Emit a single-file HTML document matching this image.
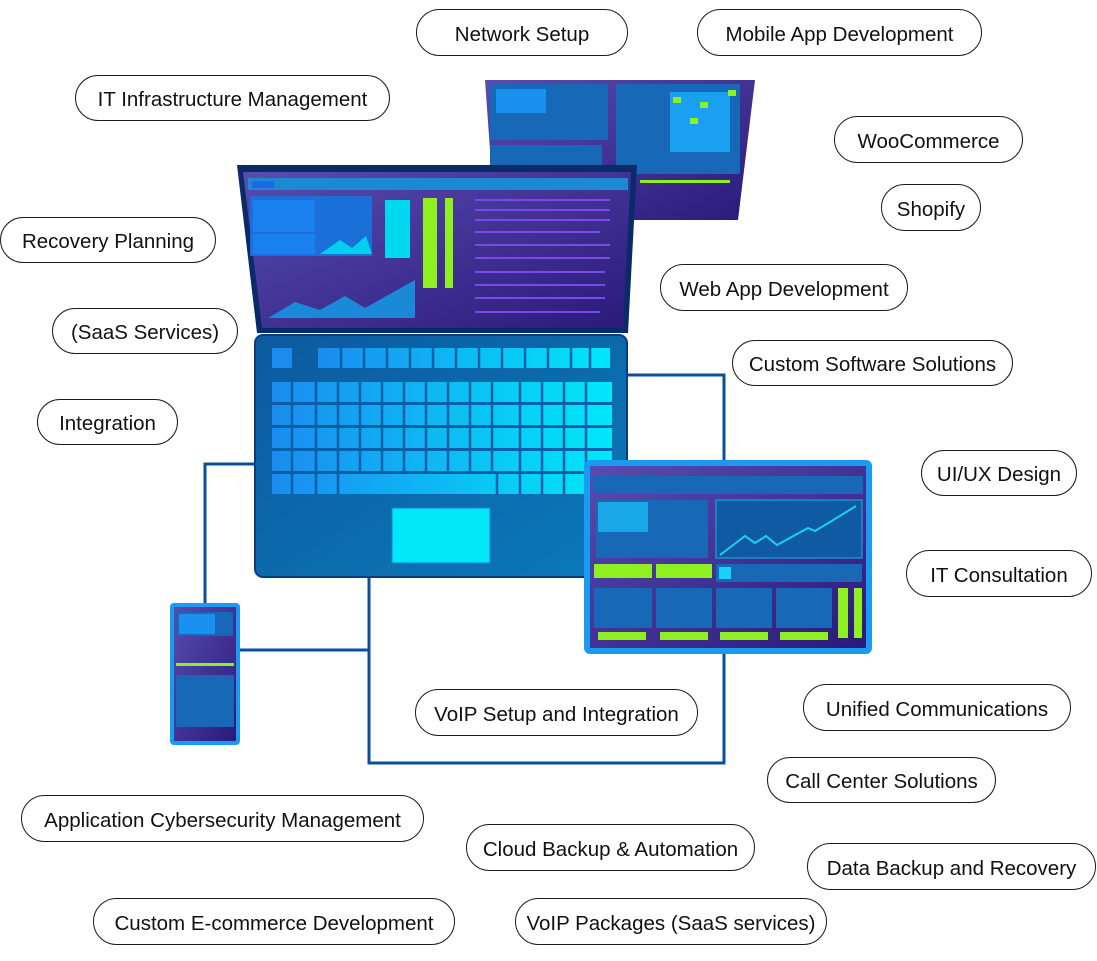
<!DOCTYPE html>
<html><head><meta charset="utf-8"><style>
body{margin:0;width:1097px;height:961px;background:#fff;position:relative;overflow:hidden;font-family:"Liberation Sans",sans-serif}
.p{position:absolute;border:1.3px solid #1a1a1a;border-radius:24px;box-sizing:border-box;display:flex;align-items:center;justify-content:center;font-size:20.5px;padding-top:4px;color:#111;white-space:nowrap;background:#fff}
svg{position:absolute;left:0;top:0}
</style></head><body>
<svg width="1097" height="961" viewBox="0 0 1097 961">
<defs>
<linearGradient id="scr" x1="0" y1="0" x2="1" y2="1"><stop offset="0" stop-color="#5a4bb0"/><stop offset="1" stop-color="#2a1a7a"/></linearGradient>
<linearGradient id="base" x1="0" y1="0" x2="1" y2="1"><stop offset="0" stop-color="#0d5aa0"/><stop offset="1" stop-color="#0a7ab8"/></linearGradient>
<linearGradient id="key" x1="0" y1="0" x2="1" y2="0"><stop offset="0" stop-color="#1a8cf0"/><stop offset="1" stop-color="#00e8f8"/></linearGradient>
</defs>
<g fill="none" stroke="#0b4f9a" stroke-width="3">
<polyline points="627,375 724,375 724,460"/>
<polyline points="724,654 724,763 369,763 369,577"/>
<polyline points="255,464 205,464 205,603"/>
<polyline points="240,650 369,650"/>
</g>
<polygon points="485,80 755,80 738,220 495,220" fill="url(#scr)"/>
<rect x="490" y="84" width="118" height="56" fill="#1868b8"/>
<rect x="496" y="89" width="50" height="24" fill="#1a90f0"/>
<rect x="616" y="84" width="124" height="90" fill="#1868b8"/>
<g fill="#1aa0f0"><rect x="670" y="92" width="60" height="60"/></g>
<g fill="#8ef020"><rect x="673" y="97" width="8" height="6"/><rect x="728" y="90" width="8" height="6"/><rect x="700" y="102" width="8" height="6"/><rect x="690" y="118" width="8" height="6"/><rect x="586" y="146" width="14" height="16"/><rect x="640" y="180" width="90" height="3"/></g>
<rect x="490" y="145" width="112" height="20" fill="#1868b8"/>
<path d="M237,165 L637,165 L628,333 L257,333 Z" fill="#0a2a6a"/>
<path d="M243,172 L631,172 L623,328 L262,328 Z" fill="url(#scr)"/>
<rect x="248" y="178" width="380" height="12" fill="#1c8ad0"/>
<rect x="252" y="181" width="22" height="7" fill="#1a6ae0"/>
<rect x="250" y="196" width="122" height="60" fill="#1a6fd8"/>
<rect x="253" y="200" width="62" height="32" fill="#1a80f0"/>
<rect x="253" y="234" width="62" height="20" fill="#1a80f0"/>
<polygon points="320,254 340,240 352,248 366,236 372,254" fill="#00d0f0"/>
<rect x="385" y="200" width="25" height="58" fill="#00d8f0"/>
<g fill="#8ef020"><rect x="423" y="198" width="14" height="90"/><rect x="445" y="198" width="8" height="90"/></g>
<polygon points="268,318 295,302 320,310 345,296 365,308 415,280 415,318" fill="#1a8ad8"/>
<g stroke="#7a4ae8" stroke-width="2"><line x1="475" y1="200" x2="610" y2="200"/><line x1="475" y1="210" x2="610" y2="210"/><line x1="475" y1="220" x2="610" y2="220"/><line x1="475" y1="232" x2="600" y2="232"/><line x1="475" y1="245" x2="610" y2="245"/><line x1="475" y1="258" x2="610" y2="258"/><line x1="475" y1="272" x2="605" y2="272"/><line x1="475" y1="285" x2="605" y2="285"/><line x1="475" y1="298" x2="605" y2="298"/><line x1="475" y1="312" x2="600" y2="312"/></g>
<rect x="255" y="335" width="372" height="242" rx="8" fill="url(#base)" stroke="#0a3a80" stroke-width="2"/>
<g fill="url(#key)"><rect x="272" y="348" width="20" height="20" fill="#1a8cf0"/><rect x="318" y="348" width="292" height="20"/>
<rect x="272" y="382" width="340" height="20"/><rect x="272" y="405" width="340" height="20"/><rect x="272" y="428" width="340" height="20"/><rect x="272" y="451" width="340" height="20"/><rect x="272" y="474" width="340" height="20"/></g>
<g stroke="#0a5fa8" stroke-width="2.5">
<line x1="341" y1="348" x2="341" y2="368"/><line x1="364" y1="348" x2="364" y2="368"/><line x1="387" y1="348" x2="387" y2="368"/><line x1="410" y1="348" x2="410" y2="368"/><line x1="433" y1="348" x2="433" y2="368"/><line x1="456" y1="348" x2="456" y2="368"/><line x1="479" y1="348" x2="479" y2="368"/><line x1="502" y1="348" x2="502" y2="368"/><line x1="525" y1="348" x2="525" y2="368"/><line x1="548" y1="348" x2="548" y2="368"/><line x1="571" y1="348" x2="571" y2="368"/><line x1="590" y1="348" x2="590" y2="368"/>
<line x1="272" y1="403.5" x2="612" y2="403.5"/><line x1="272" y1="426.5" x2="612" y2="426.5"/><line x1="272" y1="449.5" x2="612" y2="449.5"/><line x1="272" y1="472.5" x2="612" y2="472.5"/>
<line x1="292" y1="382" x2="292" y2="494"/><line x1="316" y1="382" x2="316" y2="494"/><line x1="338" y1="382" x2="338" y2="494"/><line x1="360" y1="382" x2="360" y2="472"/><line x1="382" y1="382" x2="382" y2="472"/><line x1="404" y1="382" x2="404" y2="472"/><line x1="426" y1="382" x2="426" y2="472"/><line x1="448" y1="382" x2="448" y2="472"/><line x1="470" y1="382" x2="470" y2="472"/><line x1="492" y1="382" x2="492" y2="472"/><line x1="497" y1="472" x2="497" y2="494"/><line x1="520" y1="382" x2="520" y2="494"/><line x1="542" y1="382" x2="542" y2="494"/><line x1="564" y1="382" x2="564" y2="494"/><line x1="586" y1="382" x2="586" y2="494"/></g>
<rect x="392" y="508" width="98" height="55" fill="#00e8f8" stroke="#1a80e0"/>
<rect x="584" y="460" width="288" height="194" rx="6" fill="#1a9af0"/>
<rect x="590" y="466" width="276" height="182" fill="url(#scr)"/>
<rect x="593" y="476" width="270" height="18" fill="#1868b8"/>
<rect x="596" y="500" width="112" height="58" fill="#1868b8"/><rect x="598" y="502" width="50" height="30" fill="#1aa8e8"/>
<rect x="716" y="500" width="146" height="58" fill="#0f5aa0" stroke="#1ab0f0"/>
<polyline points="720,555 745,536 755,543 766,536 777,545 808,528 815,531 830,522 856,506" fill="none" stroke="#1ad0f8" stroke-width="2"/>
<g fill="#8ef020"><rect x="594" y="564" width="58" height="14"/><rect x="656" y="564" width="56" height="14"/><rect x="598" y="632" width="48" height="8"/><rect x="660" y="632" width="48" height="8"/><rect x="720" y="632" width="48" height="8"/><rect x="780" y="632" width="48" height="8"/><rect x="838" y="588" width="10" height="50"/><rect x="854" y="588" width="8" height="50"/></g>
<rect x="716" y="564" width="146" height="18" fill="#1868b8"/><rect x="719" y="567" width="12" height="12" fill="#1ad0f8"/>
<g fill="#1868b8"><rect x="594" y="588" width="58" height="40"/><rect x="656" y="588" width="56" height="40"/><rect x="716" y="588" width="56" height="40"/><rect x="776" y="588" width="56" height="40"/></g>
<rect x="170" y="603" width="70" height="142" rx="4" fill="#1a9af0"/>
<rect x="174" y="607" width="62" height="134" fill="url(#scr)"/>
<rect x="177" y="612" width="56" height="24" fill="#1868b8"/><rect x="179" y="614" width="36" height="20" fill="#1a90f0"/>
<rect x="176" y="663" width="58" height="3" fill="#8ef020"/>
<g fill="#1868b8"><rect x="176" y="675" width="58" height="52"/></g>
</svg>
<div class="p" style="left:416px;top:9px;width:212px;height:47px">Network Setup</div>
<div class="p" style="left:697px;top:9px;width:285px;height:47px">Mobile App Development</div>
<div class="p" style="left:75px;top:75px;width:315px;height:46px">IT Infrastructure Management</div>
<div class="p" style="left:834px;top:116px;width:189px;height:47px">WooCommerce</div>
<div class="p" style="left:881px;top:184px;width:100px;height:47px">Shopify</div>
<div class="p" style="left:0px;top:217px;width:216px;height:46px">Recovery Planning</div>
<div class="p" style="left:660px;top:264px;width:248px;height:47px">Web App Development</div>
<div class="p" style="left:52px;top:308px;width:186px;height:46px">(SaaS Services)</div>
<div class="p" style="left:732px;top:340px;width:281px;height:46px">Custom Software Solutions</div>
<div class="p" style="left:37px;top:399px;width:141px;height:46px">Integration</div>
<div class="p" style="left:921px;top:450px;width:156px;height:46px">UI/UX Design</div>
<div class="p" style="left:906px;top:550px;width:186px;height:47px">IT Consultation</div>
<div class="p" style="left:415px;top:689px;width:283px;height:47px">VoIP Setup and Integration</div>
<div class="p" style="left:803px;top:684px;width:268px;height:47px">Unified Communications</div>
<div class="p" style="left:767px;top:757px;width:229px;height:46px">Call Center Solutions</div>
<div class="p" style="left:21px;top:795px;width:403px;height:47px">Application Cybersecurity Management</div>
<div class="p" style="left:466px;top:824px;width:289px;height:47px">Cloud Backup &amp; Automation</div>
<div class="p" style="left:807px;top:843px;width:289px;height:47px">Data Backup and Recovery</div>
<div class="p" style="left:93px;top:898px;width:362px;height:47px">Custom E-commerce Development</div>
<div class="p" style="left:515px;top:898px;width:312px;height:47px">VoIP Packages (SaaS services)</div>
</body></html>
